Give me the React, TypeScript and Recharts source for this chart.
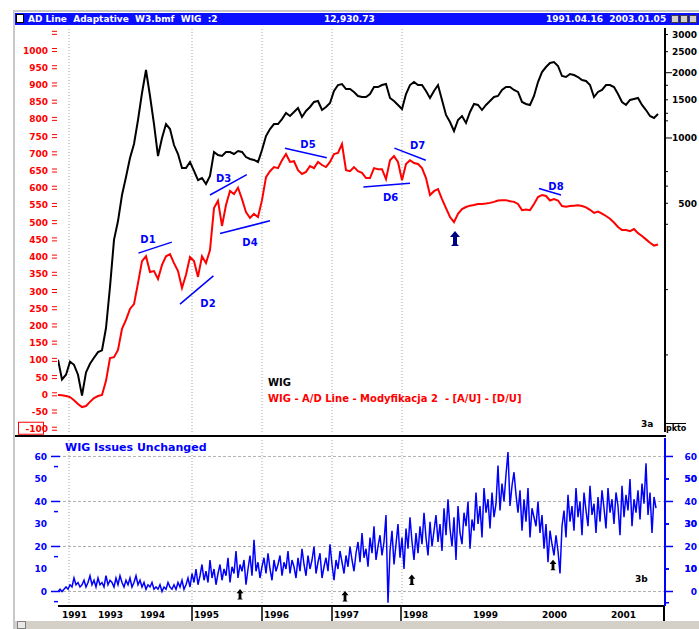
import React from 'react';
import { ComposedChart, Line, XAxis, YAxis, ReferenceLine, ReferenceDot } from 'recharts';

// WIG (pts/10), one sample every 2 sessions
const wigIndex = [
  95, 77, 81, 93, 90, 81, 65, 83, 91, 97,
  103, 105, 133, 206, 339, 414, 546, 661, 809, 938,
  1211, 1612, 2058, 1562, 1160, 826, 1000, 1160, 1100, 928,
  844, 727, 727, 775, 705, 640, 654, 614, 668, 862,
  835, 826, 862, 862, 844, 871, 862, 817, 800, 792,
  775, 880, 1021, 1100, 1160, 1160, 1223, 1304, 1263, 1318,
  1375, 1250, 1332, 1390, 1466, 1481, 1346, 1390, 1450, 1647,
  1755, 1774, 1682, 1682, 1630, 1562, 1545, 1545, 1595, 1718,
  1718, 1755, 1774, 1529, 1481, 1420, 1361, 1595, 1755, 1812,
  1755, 1755, 1647, 1529, 1647, 1755, 1497, 1277, 1185, 1077,
  1211, 1263, 1173, 1318, 1435, 1420, 1346, 1420, 1481, 1545,
  1562, 1665, 1718, 1718, 1665, 1630, 1466, 1435, 1420, 1562,
  1812, 2015, 2125, 2217, 2241, 2148, 1931, 1911, 1973, 1952,
  1911, 1851, 1832, 1755, 1545, 1630, 1665, 1755, 1755, 1718,
  1595, 1466, 1420, 1497, 1513, 1529, 1420, 1346, 1263, 1237, 1290,
];

// A/D line (modyfikacja 2), left axis, same sampling
const adLine = [
  -2, -3, -5, -8, -17, -28, -37, -34, -22, -11,
  -5, -2, 39, 105, 108, 129, 190, 216, 248, 262,
  323, 387, 401, 355, 358, 335, 376, 401, 407, 381,
  358, 309, 347, 399, 387, 341, 401, 381, 419, 541,
  562, 489, 550, 591, 582, 600, 567, 529, 512, 524,
  515, 564, 631, 648, 660, 657, 680, 698, 675, 677,
  651, 640, 646, 663, 657, 675, 666, 660, 675, 698,
  701, 727, 651, 648, 660, 648, 643, 628, 628, 657,
  654, 654, 625, 680, 692, 675, 622, 669, 680, 672,
  669, 657, 628, 579, 590, 596, 567, 541, 515, 500,
  524, 538, 544, 548, 550, 553, 553, 554, 556, 559,
  563, 564, 564, 561, 559, 553, 535, 537, 535, 553,
  573, 579, 576, 563, 567, 563, 547, 545, 547, 548,
  549, 547, 543, 536, 527, 531, 525, 518, 510, 499,
  486, 477, 477, 474, 480, 468, 460, 450, 440, 432, 435,
];

// issues unchanged, one sample per session
const issuesUnchanged = [
  0, 1, 0, 1, 2, 1, 3, 2, 6, 3,
  4, 2, 3, 5, 2, 4, 7, 3, 5, 2,
  6, 3, 4, 2, 7, 3, 5, 4, 2, 6,
  3, 7, 4, 2, 5, 3, 6, 2, 4, 7,
  3, 5, 2, 4, 1, 3, 2, 4, 1, 2,
  1, 3, 0, 2, 1, 4, 2, 1, 3, 1,
  4, 2, 5, 1, 3, 6, 2, 8, 4, 10,
  3, 7, 12, 5, 9, 4, 14, 6, 10, 3,
  8, 12, 5, 10, 7, 15, 4, 11, 8, 18,
  6, 12, 9, 14, 3, 10, 16, 7, 23, 9,
  13, 6, 11, 15, 8, 17, 10, 5, 14, 9,
  12, 16, 7, 13, 10, 18, 8, 14, 11, 6,
  15, 9, 19, 12, 7, 16, 10, 14, 20, 8,
  13, 17, 6, 11, 15, 9, 21, 12, 5, 14,
  10, 18, 13, 8, 16, 11, 20, 14, 9, 17,
  22, 13, 26, 15, 19, 11, 24, 17, 29, 14,
  20, 25, 16, 22, 34, -5, 18, 27, 12, 21,
  30, 15, 24, 10, 28, 19, 33, 22, 14, 26,
  17, 29, 21, 35, 24, 16, 31, 20, 27, 34,
  22, 30, 18, 37, 25, 41, 28, 20, 33, 14,
  38, 26, 21, 35, 29, 40, 19, 32, 27, 44,
  30, 38, 24, 46, 35, 41, 28, 44, 33, 39,
  56, 36, 48, 40, 52, 62, 38, 47, 53, 43,
  35, 45, 27, 41, 31, 46, 24, 37, 33, 29,
  40, 26, 34, 19, 30, 13, 27, 21, 16, 25,
  18, 8, 29, 36, 24, 43, 31, 38, 27, 46,
  33, 40, 25, 44, 36, 29, 47, 34, 39, 26,
  42, 31, 45, 37, 28, 46, 35, 41, 30, 44,
  38, 25, 47, 33, 43, 36, 50, 29, 41, 35,
  45, 32, 48, 39, 57, 34, 44, 26, 42, 37,
];

const yearLabels = ['1991', '1993', '1994', '1995', '1996', '1997', '1998', '1999', '2000', '2001'];
const yearSessions = [1, 19, 40, 67, 102, 137, 171.5, 206.5, 241, 275.5];
const yearSeparators = ['1995', '1996', '1997', '1998'];
const gridSessions = [5.5, 67, 102, 137, 172];

const adTicks = [-100, -50, 0, 50, 100, 150, 200, 250, 300, 350, 400, 450, 500, 550,
  600, 650, 700, 750, 800, 850, 900, 950, 1000, 1050];
const wigLabelTicks = [500, 1000, 1500, 2000, 2500, 3000];
const wigMinorTicks = [100, 200, 400, 600, 700, 1200, 1300, 1750];
const issuesLabels = [0, 10, 20, 30, 40, 50, 60];
const issuesGrid = [0, 20, 40, 60];
const issuesLeftMinor = [-4.5, 15.5, 35.5, 55.5];
const issuesRightMinor = [-5, 10, 30, 50];

// hand drawn trend lines on the A/D line
const trendLines = [
  { name: 'D1', s1: 40.2, v1: 410, s2: 56.9, v2: 442, ls: 45, lv: 451 },
  { name: 'D2', s1: 61, v1: 262, s2: 77.7, v2: 344, ls: 75, lv: 265 },
  { name: 'D3', s1: 76, v1: 579, s2: 94.4, v2: 638, ls: 82.8, lv: 627 },
  { name: 'D4', s1: 81, v1: 467, s2: 106, v2: 504, ls: 96, lv: 442 },
  { name: 'D5', s1: 113.5, v1: 715, s2: 134.4, v2: 687, ls: 125, lv: 726 },
  { name: 'D6', s1: 152.7, v1: 602, s2: 176, v2: 613, ls: 166.3, lv: 574 },
  { name: 'D7', s1: 168.2, v1: 715, s2: 183.9, v2: 680, ls: 179.8, lv: 723 },
  { name: 'D8', s1: 240.5, v1: 598, s2: 251.5, v2: 579, ls: 249, lv: 605 },
];
const adSignals = [{ s: 198.5, v: 451 }];
const issuesSignals = [
  { s: 91, v: -1.4 },
  { s: 143.5, v: -2.3 },
  { s: 176.9, v: 5.1 },
  { s: 247.5, v: 11.6 },
];

const upperData = wigIndex.map((w, k) => ({ s: k * 2, wig: w, ad: adLine[k] }));
const lowerData = issuesUnchanged.map((u, i) => ({ s: i, u }));

const FONT = '"DejaVu Sans", sans-serif';
const LOWER_TOP = 436;
const X_DOMAIN: [number, number] = [0, 303.5];

const AdTick = (props: any) => {
  const { y, payload } = props;
  const v = payload.value;
  return (
    <g>
      <line x1={52} x2={57} y1={y - 1.5} y2={y - 1.5} stroke="#f00" />
      <line x1={52} x2={57} y1={y + 1.5} y2={y + 1.5} stroke="#f00" />
      {v <= 1000 && (
        <text x={48} y={y + 3.5} textAnchor="end" fill="#f00" fontSize={9} fontWeight="bold" fontFamily={FONT}>
          {v}
        </text>
      )}
      {v === -100 && <rect x={18.5} y={y - 6.5} width={25} height={12} fill="none" stroke="#f00" />}
    </g>
  );
};

const WigTick = (props: any) => {
  const { y, payload } = props;
  const v = payload.value;
  const long = v === 1000 || v === 2000;
  return (
    <g>
      <line x1={665} x2={long ? 672 : 668} y1={y} y2={y} stroke="#000" />
      {wigLabelTicks.includes(v) && (
        <text x={697} y={y + 3.5} textAnchor="end" fill="#000" fontSize={9} fontWeight="bold" fontFamily={FONT}>
          {v}
        </text>
      )}
    </g>
  );
};

const IssuesLeftTick = (props: any) => {
  const { y, payload } = props;
  const v = payload.value;
  const isGrid = issuesGrid.includes(v);
  const isMinor = issuesLeftMinor.includes(v);
  return (
    <g>
      {isGrid && <line x1={51} x2={60} y1={y} y2={y} stroke="#00f" strokeWidth={1.5} />}
      {isMinor && <line x1={54} x2={58} y1={y} y2={y} stroke="#00f" strokeWidth={1.5} />}
      {issuesLabels.includes(v) && (
        <text x={47} y={y + 3.5} textAnchor="end" fill="#00f" fontSize={9} fontWeight="bold" fontFamily={FONT}>
          {v}
        </text>
      )}
    </g>
  );
};

const IssuesRightTick = (props: any) => {
  const { y, payload } = props;
  const v = payload.value;
  const isGrid = issuesGrid.includes(v);
  const isMinor = issuesRightMinor.includes(v);
  return (
    <g>
      {isGrid && <line x1={665} x2={673} y1={y} y2={y} stroke="#00f" strokeWidth={1.5} />}
      {isMinor && <line x1={665} x2={669} y1={y} y2={y} stroke="#00f" strokeWidth={1.5} />}
      {issuesLabels.includes(v) && (
        <text x={697} y={y + 3.5} textAnchor="end" fill="#00f" fontSize={9} fontWeight="bold" fontFamily={FONT}>
          {v}
        </text>
      )}
    </g>
  );
};

const YearTick = (props: any) => {
  const { x, payload } = props;
  const label = yearLabels[yearSessions.indexOf(payload.value)];
  const sep = yearSeparators.includes(label);
  return (
    <g>
      {sep && <line x1={x} x2={x} y1={606 - LOWER_TOP} y2={621 - LOWER_TOP} stroke="#000" strokeWidth={1.5} />}
      <text x={x + 2} y={618 - LOWER_TOP} fill="#000" fontSize={9} fontWeight="bold" fontFamily={FONT}>
        {label}
      </text>
    </g>
  );
};

const arrowShape = (color: string, k: number) => (p: any) => {
  const { cx, cy } = p;
  const d = `M${cx},${cy - 8 * k} L${cx + 5 * k},${cy - 2 * k} L${cx + 2 * k},${cy - 2 * k} L${cx + 2 * k},${cy + 5 * k} L${cx + 4 * k},${cy + 7 * k} L${cx - 4 * k},${cy + 7 * k} L${cx - 2 * k},${cy + 5 * k} L${cx - 2 * k},${cy - 2 * k} L${cx - 5 * k},${cy - 2 * k} Z`;
  return <path d={d} fill={color} />;
};

const labelShape = (text: string) => (p: any) => (
  <text x={p.cx} y={p.cy + 4} textAnchor="middle" fill="#00f" fontSize={10} fontWeight="bold" fontFamily={FONT}>
    {text}
  </text>
);

const txt = (left: number, top: number, color: string, size: number, s: string, extra: any = {}) => (
  <div
    style={{
      position: 'absolute', left, top, color, fontSize: size, fontWeight: 'bold', fontFamily: FONT,
      lineHeight: '12px', whiteSpace: 'pre', ...extra,
    }}
  >
    {s}
  </div>
);

export default function App() {
  return (
    <div style={{ position: 'absolute', left: 0, top: 0, width: 699, height: 629, background: '#fff', overflow: 'hidden', fontFamily: FONT }}>
      {/* window frame */}
      <div style={{ position: 'absolute', left: 13, top: 10, width: 686, height: 2, background: '#c8c8c8' }} />
      <div style={{ position: 'absolute', left: 13, top: 10, width: 2, height: 619, background: '#c8c8c8' }} />
      <div style={{ position: 'absolute', left: 15, top: 13, width: 684, height: 12, background: '#0a10ff' }} />
      <div style={{ position: 'absolute', left: 16, top: 14, width: 8, height: 9, background: '#fff', border: '1px solid #000', boxSizing: 'border-box' }} />
      {txt(28, 13, '#fff', 9, 'AD Line  Adaptative  W3.bmf  WIG  :2')}
      {txt(324, 13, '#fff', 9, '12,930.73')}
      {txt(546, 13, '#fff', 9, '1991.04.16  2003.01.05')}
      {[671, 680, 689].map((l) => (
        <div key={l} style={{ position: 'absolute', left: l, top: 15, width: 8, height: 8, background: '#d4d0c8', border: '1px solid #404040', boxSizing: 'border-box' }} />
      ))}

      {/* upper panel */}
      <div style={{ position: 'absolute', left: 0, top: 0 }}>
        <ComposedChart width={699} height={440} data={upperData} margin={{ top: 28, right: 0, bottom: 8, left: 0 }}>
          <XAxis dataKey="s" type="number" domain={X_DOMAIN} hide allowDataOverflow />
          <YAxis yAxisId="ad" domain={[-109.5, 1064]} ticks={adTicks} width={58} interval={0}
            axisLine={false} tickLine={false} tick={AdTick} allowDataOverflow />
          <YAxis yAxisId="wig" orientation="right" scale="log" domain={[44.1, 3215]} width={34} interval={0}
            ticks={[...wigMinorTicks, ...wigLabelTicks].sort((a, b) => a - b)}
            axisLine={{ stroke: '#000', strokeWidth: 2 }} tickLine={false} tick={WigTick} allowDataOverflow />
          {gridSessions.map((s) => (
            <ReferenceLine key={s} x={s} yAxisId="ad" stroke="#a8a8a8" strokeDasharray="1 2" />
          ))}
          <Line yAxisId="wig" dataKey="wig" stroke="#000" strokeWidth={2} dot={false} isAnimationActive={false} />
          <Line yAxisId="ad" dataKey="ad" stroke="#f00" strokeWidth={2} dot={false} isAnimationActive={false} />
          {trendLines.map((t) => (
            <ReferenceLine key={t.name} yAxisId="ad" stroke="#00f" strokeWidth={1.5}
              segment={[{ x: t.s1, y: t.v1 }, { x: t.s2, y: t.v2 }]} />
          ))}
          {trendLines.map((t) => (
            <ReferenceDot key={'l' + t.name} yAxisId="ad" x={t.ls} y={t.lv} r={4} shape={labelShape(t.name)} />
          ))}
          {adSignals.map((a, i) => (
            <ReferenceDot key={'a' + i} yAxisId="ad" x={a.s} y={a.v} r={4} shape={arrowShape('#000080', 1)} />
          ))}
        </ComposedChart>
      </div>
      {txt(268, 377, '#000', 10, 'WIG')}
      {txt(268, 393, '#f00', 10, 'WIG - A/D Line - Modyfikacja 2  - [A/U] - [D/U]')}
      {txt(641, 418, '#000', 9, '3a')}
      {txt(666, 423, '#000', 8, 'pkto', { borderTop: '1px solid #000', lineHeight: '10px' })}

      {/* panel separator */}
      <div style={{ position: 'absolute', left: 15, top: 435, width: 651, height: 2, background: '#000' }} />

      {/* lower panel */}
      <div style={{ position: 'absolute', left: 0, top: LOWER_TOP }}>
        <ComposedChart width={699} height={193} data={lowerData} margin={{ top: 2, right: 0, bottom: 0, left: 0 }}>
          <XAxis dataKey="s" type="number" domain={X_DOMAIN} ticks={yearSessions} interval={0} height={23}
            axisLine={{ stroke: '#000', strokeWidth: 2 }} tickLine={false} tick={YearTick} allowDataOverflow />
          <YAxis yAxisId="l" domain={[-6.44, 68.2]} width={58} interval={0}
            ticks={[...issuesLabels, ...issuesLeftMinor].sort((a, b) => a - b)}
            axisLine={false} tickLine={false} tick={IssuesLeftTick} allowDataOverflow />
          <YAxis yAxisId="r" orientation="right" domain={[-6.44, 68.2]} width={34} interval={0}
            ticks={[...issuesLabels, ...issuesRightMinor].sort((a, b) => a - b)}
            axisLine={{ stroke: '#00f', strokeWidth: 2 }} tickLine={false} tick={IssuesRightTick} allowDataOverflow />
          {issuesGrid.map((v) => (
            <ReferenceLine key={'h' + v} y={v} yAxisId="l" stroke="#b0b0b0" strokeDasharray="3 2" />
          ))}
          {gridSessions.map((s) => (
            <ReferenceLine key={s} x={s} yAxisId="l" stroke="#a8a8a8" strokeDasharray="1 2" />
          ))}
          <Line yAxisId="l" dataKey="u" stroke="#00f" strokeWidth={1.5} dot={false} isAnimationActive={false} />
          {issuesSignals.map((a, i) => (
            <ReferenceDot key={'b' + i} yAxisId="l" x={a.s} y={a.v} r={3} shape={arrowShape('#000', 0.7)} />
          ))}
        </ComposedChart>
      </div>
      {txt(65, 442, '#00f', 11, 'WIG Issues Unchanged')}
      {txt(635, 573, '#000', 9, '3b')}
      <div style={{ position: 'absolute', left: 663, top: 606, width: 2, height: 15, background: '#000' }} />

      {/* scroll bar */}
      <div style={{ position: 'absolute', left: 15, top: 621, width: 684, height: 8, background: '#d4d0c8' }} />
      <div style={{ position: 'absolute', left: 17, top: 621, width: 9, height: 8, background: '#e8e8e8', border: '1px solid #808080', boxSizing: 'border-box' }} />
    </div>
  );
}
